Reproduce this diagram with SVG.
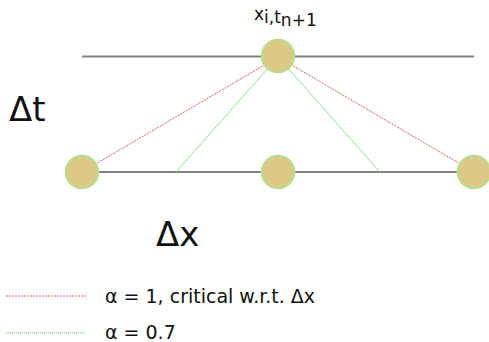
<svg xmlns="http://www.w3.org/2000/svg" width="489" height="342" viewBox="0 0 489 342">
<style>
.grid{stroke:#808080;stroke-width:2;fill:none}
.red{stroke:#e06060;stroke-width:1;stroke-dasharray:2,1;fill:none}
.green{stroke:#90e090;stroke-width:1;fill:none}
.node{fill:#dcc987;stroke:#a8e68c;stroke-width:1.5}
text{font-family:"DejaVu Sans",sans-serif;fill:#111}
</style>
<rect width="489" height="342" fill="#fff"/>
<g id="connectors">
<line class="grid" x1="82" y1="56.5" x2="474" y2="56.5"/>
<line class="grid" x1="82" y1="172" x2="474" y2="172"/>
<line class="red" x1="278" y1="57" x2="82" y2="172"/>
<line class="red" x1="278" y1="57" x2="474" y2="172"/>
<line class="green" x1="278" y1="57" x2="176" y2="172"/>
<line class="green" x1="278" y1="57" x2="380" y2="172"/>
</g>
<g id="n-top"><circle class="node" cx="278" cy="56" r="16.5"/></g>
<g id="n-left"><circle class="node" cx="82" cy="172" r="16.5"/></g>
<g id="n-mid"><circle class="node" cx="278" cy="172" r="16.5"/></g>
<g id="n-right"><circle class="node" cx="474" cy="172" r="16.5"/></g>
<g id="labels">
<text x="254" y="20" font-size="17">x<tspan dy="3">i,t</tspan><tspan dy="3">n+1</tspan></text>
<text x="9" y="121" font-size="34">Δt</text>
<text x="156" y="246" font-size="34">Δx</text>
</g>
<g id="legend">
<line class="red" x1="6" y1="296" x2="86" y2="296"/>
<line x1="6" y1="333" x2="86" y2="333" stroke="#50d050" stroke-width="1" stroke-dasharray="1,1"/>
<text x="105" y="303" font-size="19">α = 1, critical w.r.t. Δx</text>
<text x="105" y="339" font-size="19">α = 0.7</text>
</g>
</svg>
